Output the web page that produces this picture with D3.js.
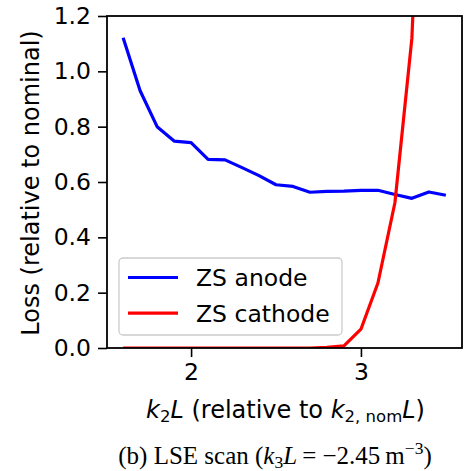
<!DOCTYPE html>
<html><head><meta charset="utf-8">
<script src="https://cdn.jsdelivr.net/npm/d3@7"></script>
<style>body{margin:0;background:#fff}svg{display:block}</style>
</head><body>
<script>
const k2L = [1.6,1.7,1.8,1.9,2.0,2.1,2.2,2.3,2.4,2.5,2.6,2.7,2.8,2.9,3.0,3.1,3.2,3.3,3.4,3.5];
const anode = [1.121,0.930,0.800,0.748,0.742,0.682,0.680,0.652,0.623,0.590,0.584,0.563,0.566,0.567,0.570,0.570,0.555,0.541,0.564,0.552];
const cathode = [0,0,0,0,0,0,0,0,0,0,0,0,0.002,0.008,0.068,0.235,0.525,1.12,2.6,5.0];
const yTicks = [0,0.2,0.4,0.6,0.8,1.0,1.2];
const xTicks = [2,3];
const seriesNames = ["ZS anode","ZS cathode"];
const colors = ["#0000ff","#ff0000"];

const W=464,H=471;
const svg=d3.select("body").append("svg").attr("width",W).attr("height",H);
const L=107,R=462,T=16,B=348;
const x=d3.scaleLinear().domain([1.505,3.595]).range([L,R]);
const y=d3.scaleLinear().domain([0,1.2]).range([B,T]);
const font="DejaVu Sans, sans-serif";
const fs=23.5;

svg.append("defs").append("clipPath").attr("id","clip")
  .append("rect").attr("x",L).attr("y",T).attr("width",R-L).attr("height",B-T);

const line=d3.line().x((d,i)=>x(k2L[i])).y(d=>y(d));
const g=svg.append("g").attr("clip-path","url(#clip)");
[anode,cathode].forEach((s,i)=>{
  g.append("path").attr("d",line(s)).attr("fill","none")
   .attr("stroke",colors[i]).attr("stroke-width",3.2).attr("stroke-linejoin","round");
});

// axes
const ya=svg.append("g").attr("transform",`translate(${L},0)`)
  .call(d3.axisLeft(y).tickValues(yTicks).tickFormat(d3.format(".1f")).tickSize(9).tickPadding(7));
const xa=svg.append("g").attr("transform",`translate(0,${B})`)
  .call(d3.axisBottom(x).tickValues(xTicks).tickFormat(d3.format("d")).tickSize(9).tickPadding(6));
[ya,xa].forEach(a=>{
  a.select(".domain").remove();
  a.selectAll(".tick line").attr("stroke","#000").attr("stroke-width",1.6);
  a.selectAll(".tick text").attr("font-family",font).attr("font-size",fs).attr("fill","#000");
});
svg.append("rect").attr("x",L).attr("y",T).attr("width",R-L).attr("height",B-T)
  .attr("fill","none").attr("stroke","#000").attr("stroke-width",1.8);

// y label
svg.append("text").attr("transform",`translate(39,${(T+B)/2+1}) rotate(-90)`)
  .attr("text-anchor","middle").attr("font-family",font).attr("font-size",fs+0.5)
  .text("Loss (relative to nominal)");

// x label
const xl=svg.append("text").attr("x",(L+R)/2+1).attr("y",418).attr("text-anchor","middle")
  .attr("font-family",font).attr("font-size",fs+0.5);
xl.append("tspan").attr("font-style","italic").text("k");
xl.append("tspan").attr("font-size",16.5).attr("dy",4).text("2");
xl.append("tspan").attr("font-style","italic").attr("dy",-4).text("L");
xl.append("tspan").text(" (relative to ");
xl.append("tspan").attr("font-style","italic").text("k");
xl.append("tspan").attr("font-size",16.5).attr("dy",4).text("2, nom");
xl.append("tspan").attr("font-style","italic").attr("dy",-4).text("L");
xl.append("tspan").text(")");

// legend
const lg=svg.append("g");
lg.append("rect").attr("x",119).attr("y",258).attr("width",223).attr("height",77)
  .attr("rx",4).attr("fill","#fff").attr("fill-opacity",0.8).attr("stroke","#cccccc").attr("stroke-width",1.3);
seriesNames.forEach((n,i)=>{
  const yy=277.5+i*35.7;
  lg.append("line").attr("x1",128).attr("x2",178).attr("y1",yy).attr("y2",yy)
    .attr("stroke",colors[i]).attr("stroke-width",3.2);
  lg.append("text").attr("x",196).attr("y",yy+8.5).attr("font-family",font).attr("font-size",fs).text(n);
});

// caption
const cap=svg.append("text").attr("x",275).attr("y",464).attr("text-anchor","middle")
  .attr("font-family","Liberation Serif, Times New Roman, serif").attr("font-size",25);
cap.append("tspan").text("(b) LSE scan (");
cap.append("tspan").attr("font-style","italic").text("k");
cap.append("tspan").attr("font-size",17.5).attr("dy",3.5).text("3");
cap.append("tspan").attr("font-style","italic").attr("dy",-3.5).text("L");
cap.append("tspan").text("\u2009= \u22122.45\u2009m");
cap.append("tspan").attr("font-size",17.5).attr("dy",-10).text("\u22123");
cap.append("tspan").attr("dy",10).text(")");
</script>
</body></html>
